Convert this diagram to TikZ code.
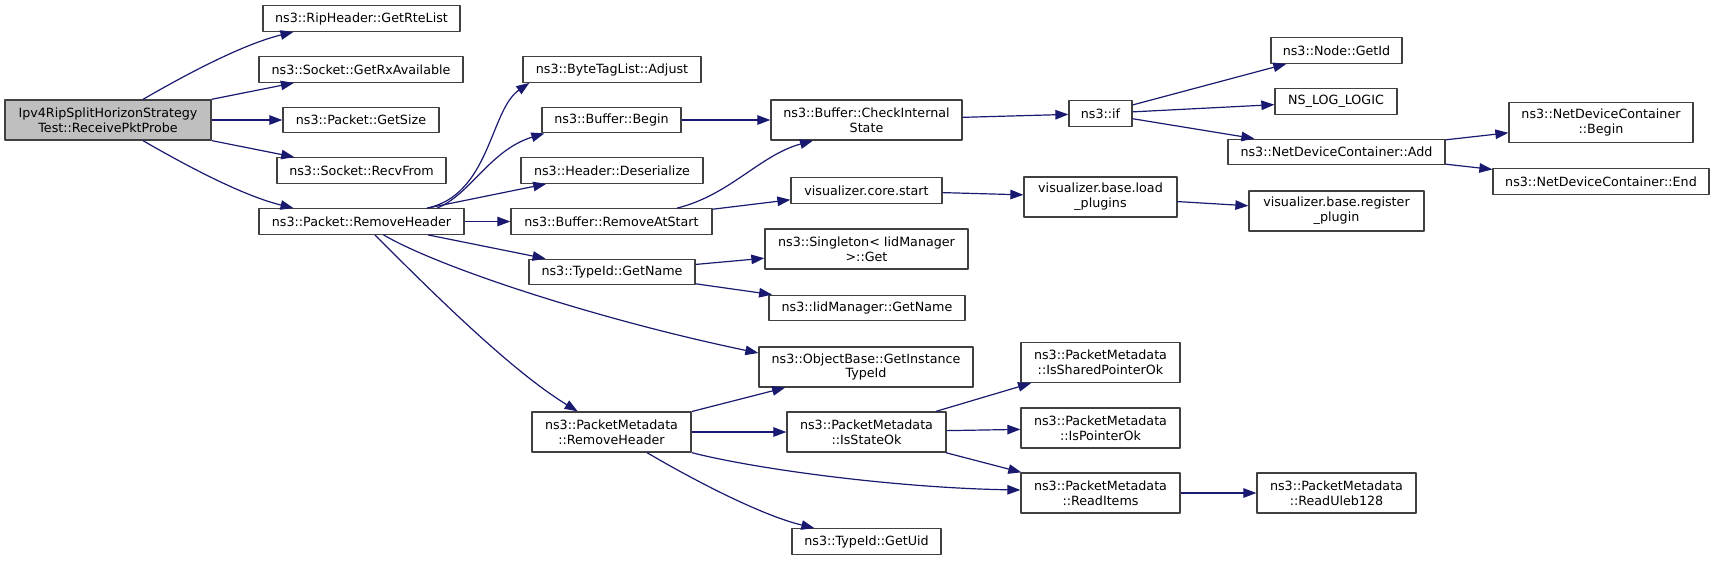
\documentclass[tikz,border=0pt]{standalone}
\usepackage{fontspec}
\setmainfont{DejaVu Sans}
\usetikzlibrary{arrows.meta}
\definecolor{edgeblue}{HTML}{191970}
\definecolor{boxgrey}{HTML}{404040}
\definecolor{rootfill}{HTML}{BFBFBF}

\begin{document}
\begin{tikzpicture}[x=1pt,y=-1pt,line join=round,>={Triangle[length=13pt,width=9.5pt]}]
	\tikzset{fn/.style={draw=boxgrey,line width=1.3pt,fill=white,inner sep=0pt,minimum width=#1pt,minimum height=25.5pt,align=center,font=\fontsize{12.7}{14.7}\selectfont},
		fnn/.style={fn=#1,minimum height=40pt},
		call/.style={->,draw=edgeblue,line width=1.2pt}}
	\useasboundingbox (0,0) rectangle (1715,560);
	\node[fnn=206,fill=rootfill] (root) at (108,120) {Ipv4RipSplitHorizonStrategy\\Test::ReceivePktProbe};
	\node[fn=197] (rte) at (361.5,18.5) {ns3::RipHeader::GetRteList};
	\node[fn=204] (rxa) at (361,69.5) {ns3::Socket::GetRxAvailable};
	\node[fn=156] (gsz) at (361,120) {ns3::Packet::GetSize};
	\node[fn=169] (rcv) at (361.5,170.5) {ns3::Socket::RecvFrom};
	\node[fn=205] (prh) at (361.5,221.5) {ns3::Packet::RemoveHeader};
	\node[fn=178] (adj) at (612,69.5) {ns3::ByteTagList::Adjust};
	\node[fn=139] (beg) at (611.5,120) {ns3::Buffer::Begin};
	\node[fn=182] (des) at (612,170.5) {ns3::Header::Deserialize};
	\node[fn=201] (ras) at (611.5,221.5) {ns3::Buffer::RemoveAtStart};
	\node[fn=166] (gnm) at (612,272) {ns3::TypeId::GetName};
	\node[fnn=191] (cis) at (866.5,120) {ns3::Buffer::CheckInternal\\State};
	\node[fn=151] (vcs) at (866.5,190.5) {visualizer.core.start};
	\node[fnn=203] (sgt) at (866.5,249) {ns3::Singleton< IidManager\\>::Get};
	\node[fn=196] (iid) at (867,308) {ns3::IidManager::GetName};
	\node[fnn=214] (git) at (866,367) {ns3::ObjectBase::GetInstance\\TypeId};
	\node[fnn=159] (pmrh) at (611.5,432) {ns3::PacketMetadata\\::RemoveHeader};
	\node[fnn=159] (iso) at (866.5,432) {ns3::PacketMetadata\\::IsStateOk};
	\node[fn=149] (uid) at (866.5,541.5) {ns3::TypeId::GetUid};
	\node[fn=63] (nif) at (1100.5,113.5) {ns3::if};
	\node[fn=131] (gid) at (1336.5,50.5) {ns3::Node::GetId};
	\node[fn=122] (nll) at (1336,101.5) {NS\_LOG\_LOGIC};
	\node[fn=217] (add) at (1336.5,152) {ns3::NetDeviceContainer::Add};
	\node[fnn=153] (lpl) at (1100.5,197) {visualizer.base.load\\\_plugins};
	\node[fnn=175] (rpl) at (1336.5,211) {visualizer.base.register\\\_plugin};
	\node[fnn=184] (ndb) at (1601,122.5) {ns3::NetDeviceContainer\\::Begin};
	\node[fn=216] (nde) at (1601,181.5) {ns3::NetDeviceContainer::End};
	\node[fnn=159] (spo) at (1100.5,362.5) {ns3::PacketMetadata\\::IsSharedPointerOk};
	\node[fnn=159] (ipo) at (1100.5,428) {ns3::PacketMetadata\\::IsPointerOk};
	\node[fnn=159] (rit) at (1100.5,493) {ns3::PacketMetadata\\::ReadItems};
	\node[fnn=159] (rul) at (1336.5,493) {ns3::PacketMetadata\\::ReadUleb128};
	\draw[call] ([xshift=35pt]root.north) .. controls (180,78) and (240,45) .. ([xshift=-68pt]rte.south);
	\draw[call] (root) -- (rxa);
	\draw[call] (root) -- (gsz);
	\draw[call] (root) -- (rcv);
	\draw[call] ([xshift=35pt]root.south) .. controls (180,162) and (240,195) .. ([xshift=-68pt]prh.north);
	\draw[call] ([xshift=65.5pt]prh.north) .. controls (490,195) and (490,110) .. ([xshift=7pt]adj.south west);
	\draw[call] ([xshift=75.5pt]prh.north) .. controls (470,195) and (490,150) .. ([xshift=3pt]beg.south west);
	\draw[call] (prh) -- (des);
	\draw[call] (prh) -- (ras);
	\draw[call] (prh) -- (gnm);
	\draw[call] ([xshift=22pt]prh.south) .. controls (440,268) and (600,320) .. ([yshift=14pt]git.west);
	\draw[call] (prh) .. controls (430,290) and (510,370) .. (pmrh);
	\draw[call] (beg) -- (cis);
	\draw[call] ([xshift=65.5pt]ras.north) .. controls (730,195) and (760,155) .. ([xshift=-53.5pt]cis.south);
	\draw[call] (ras) -- (vcs);
	\draw[call] (gnm) -- (sgt);
	\draw[call] (gnm) -- (iid);
	\draw[call] (cis) -- (nif);
	\draw[call] (nif) -- (gid);
	\draw[call] (nif) -- (nll);
	\draw[call] (nif) -- (add);
	\draw[call] (add) -- (ndb);
	\draw[call] (add) -- (nde);
	\draw[call] (vcs) -- (lpl);
	\draw[call] (lpl) -- (rpl);
	\draw[call] (pmrh) -- (git);
	\draw[call] (pmrh) -- (iso);
	\draw[call] (pmrh.south east) .. controls (760,470) and (900,488) .. ([yshift=3pt]rit.west);
	\draw[call] ([xshift=35.5pt]pmrh.south) .. controls (690,478) and (760,515) .. ([xshift=23pt]uid.north west);
	\draw[call] (iso) -- (spo);
	\draw[call] (iso) -- (ipo);
	\draw[call] (iso) -- (rit);
	\draw[call] (rit) -- (rul);
\end{tikzpicture}
\end{document}
